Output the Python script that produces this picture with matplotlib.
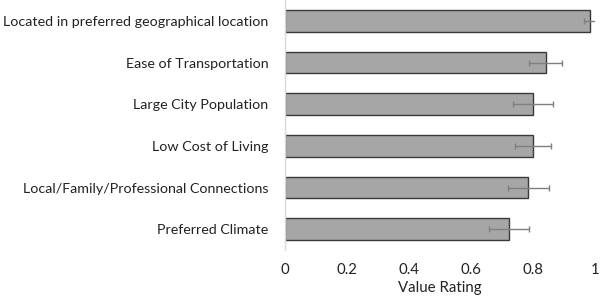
import numpy as np
import matplotlib
matplotlib.use("Agg")
import matplotlib.pyplot as plt

plt.rcParams['font.family'] = ['Lato', 'DejaVu Sans']

categories = ["Located in preferred geographical location",
              "Ease of Transportation",
              "Large City Population",
              "Low Cost of Living",
              "Local/Family/Professional Connections",
              "Preferred Climate"]
values = [0.984, 0.841, 0.80, 0.80, 0.785, 0.723]
errors = [0.021, 0.053, 0.066, 0.058, 0.066, 0.065]

fig = plt.figure(figsize=(6.0, 3.01), dpi=100)
ax = fig.add_axes([285/600, 1 - 250/301, 310/600, 250/301])

y = np.arange(len(categories))
ax.barh(y, values, height=0.52, color="#a6a6a6", edgecolor="#3a3a3a", linewidth=1.0,
        xerr=errors, error_kw=dict(ecolor="#7f7f7f", elinewidth=1.0, capsize=2.5, capthick=1.0))

ax.set_ylim(len(categories) - 0.5, -0.5)
ax.set_yticks(y)
ax.set_yticklabels(categories, fontsize=10.3, color="#222222")
ax.set_xlim(0, 1)
ax.set_xticks([0, 0.2, 0.4, 0.6, 0.8, 1])
ax.set_xticklabels(["0", "0.2", "0.4", "0.6", "0.8", "1"], fontsize=10.8, color="#222222")
ax.tick_params(axis='x', length=0, pad=9)
ax.tick_params(axis='y', length=0, pad=12)
ax.set_xlabel("Value Rating", fontsize=10.8, color="#222222", labelpad=3)

for s in ["top", "right", "bottom"]:
    ax.spines[s].set_visible(False)
ax.spines["left"].set_color("#d9d9d9")
ax.spines["left"].set_linewidth(1.0)

fig.savefig("out.png", dpi=100)
